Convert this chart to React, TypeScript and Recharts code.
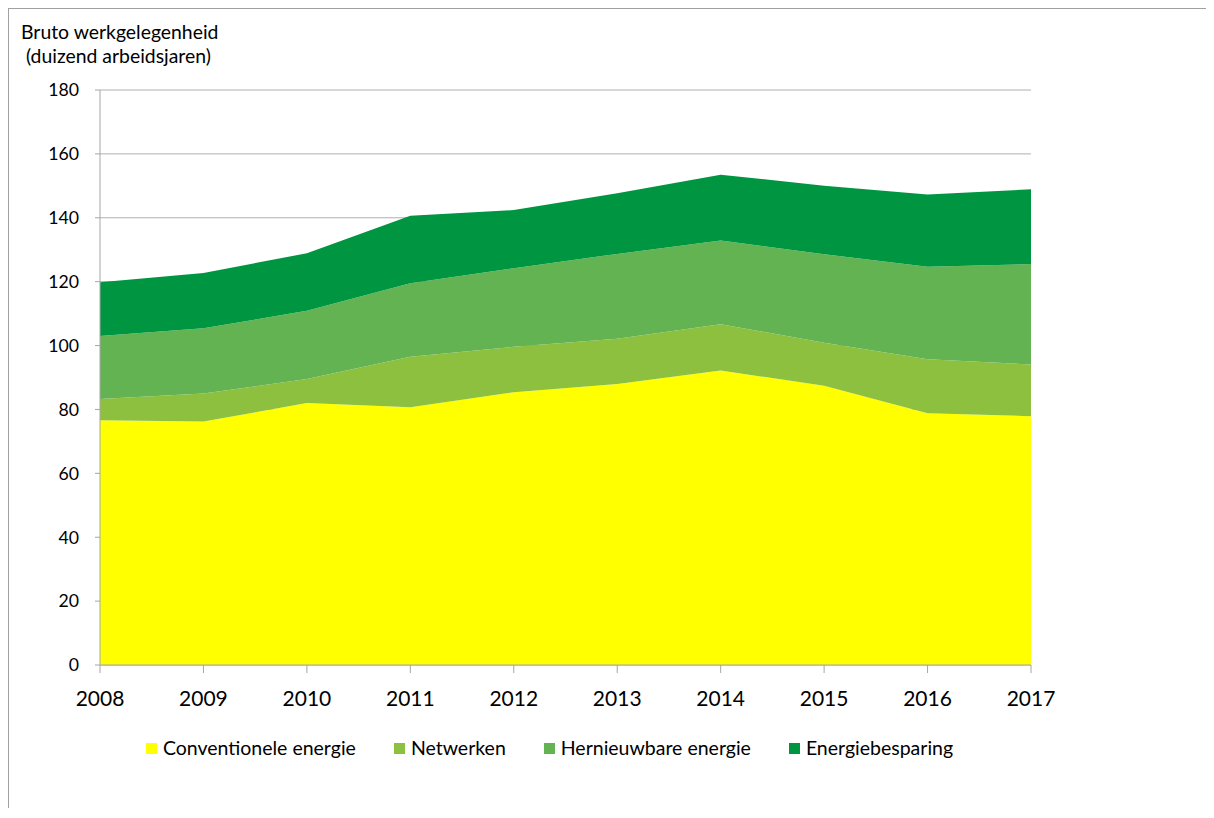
import React from "react";
import {
  Area,
  AreaChart,
  CartesianGrid,
  XAxis,
  YAxis,
} from "recharts";

const years = ["2008", "2009", "2010", "2011", "2012", "2013", "2014", "2015", "2016", "2017"];
const conventioneel = [76.6, 76.2, 82.0, 80.7, 85.4, 88.0, 92.2, 87.4, 78.8, 77.9];
const netwerken = [6.7, 8.8, 7.5, 15.8, 14.2, 14.1, 14.5, 13.5, 16.9, 16.2];
const hernieuwbaar = [19.7, 20.4, 21.4, 23.0, 24.6, 26.6, 26.2, 27.7, 29.0, 31.4];
const besparing = [16.8, 17.3, 18.0, 21.1, 18.2, 19.0, 20.6, 21.4, 22.6, 23.4];
const yTicks = [0, 20, 40, 60, 80, 100, 120, 140, 160, 180];

const series = [
  { key: "conv", name: "Conventionele energie", color: "#FFFF00" },
  { key: "netw", name: "Netwerken", color: "#8EC040" },
  { key: "hern", name: "Hernieuwbare energie", color: "#64B352" },
  { key: "besp", name: "Energiebesparing", color: "#009641" },
];

const FONT = "Lato, 'Open Sans', sans-serif";

const App: React.FC = () => {
  const chartData = years.map((year, i) => ({
    year,
    conv: conventioneel[i],
    netw: netwerken[i],
    hern: hernieuwbaar[i],
    besp: besparing[i],
  }));

  return (
    <div style={{ position: "relative", width: 1198, height: 800, fontFamily: FONT }}>
      <style>{"html,body{overflow:hidden}"}</style>
      {/* chart frame: only the top and left edges show in the picture */}
      <div
        style={{
          position: "absolute",
          left: 0,
          top: 0,
          width: 1206,
          height: 810,
          borderTop: "1px solid #a0a0a0",
          borderLeft: "1px solid #a0a0a0",
        }}
      />
      <div
        style={{
          position: "absolute",
          left: 13,
          top: 12,
          fontSize: 19.4,
          lineHeight: "24px",
          color: "#000",
          whiteSpace: "pre",
        }}
      >
        {"Bruto werkgelegenheid\n (duizend arbeidsjaren)"}
      </div>
      <div style={{ position: "absolute", left: 0, top: 0 }}>
        <AreaChart
          width={1200}
          height={760}
          data={chartData}
          margin={{ top: 82, right: 177, left: 0, bottom: 63 }}
        >
          <CartesianGrid vertical={false} stroke="#b0b0b0" />
          <XAxis
            dataKey="year"
            interval={0}
            height={40}
            axisLine={{ stroke: "#a6a6a6" }}
            tickLine={{ stroke: "#a6a6a6" }}
            tickSize={8}
            tickMargin={18}
            tick={{ fill: "#000", fontSize: 21, fontFamily: FONT }}
          />
          <YAxis
            width={92}
            domain={[0, 180]}
            ticks={yTicks}
            interval={0}
            axisLine={{ stroke: "#a6a6a6" }}
            tickLine={{ stroke: "#a6a6a6" }}
            tickSize={5}
            tickMargin={16}
            tick={{ fill: "#000", fontSize: 17.7, fontFamily: FONT }}
          />
          {series.map((s) => (
            <Area
              key={s.key}
              type="linear"
              dataKey={s.key}
              name={s.name}
              stackId="a"
              stroke="none"
              fill={s.color}
              fillOpacity={1}
              isAnimationActive={false}
            />
          ))}
        </AreaChart>
      </div>
      <div
        style={{
          position: "absolute",
          left: 0,
          top: 728,
          width: 1083,
          display: "flex",
          justifyContent: "center",
          gap: 38,
          fontSize: 19.5,
          lineHeight: "24px",
          color: "#000",
        }}
      >
        {series.map((s) => (
          <div key={s.key} style={{ display: "flex", alignItems: "center", gap: 6 }}>
            <div style={{ width: 11, height: 11, background: s.color }} />
            <div>{s.name}</div>
          </div>
        ))}
      </div>
    </div>
  );
};

export default App;
